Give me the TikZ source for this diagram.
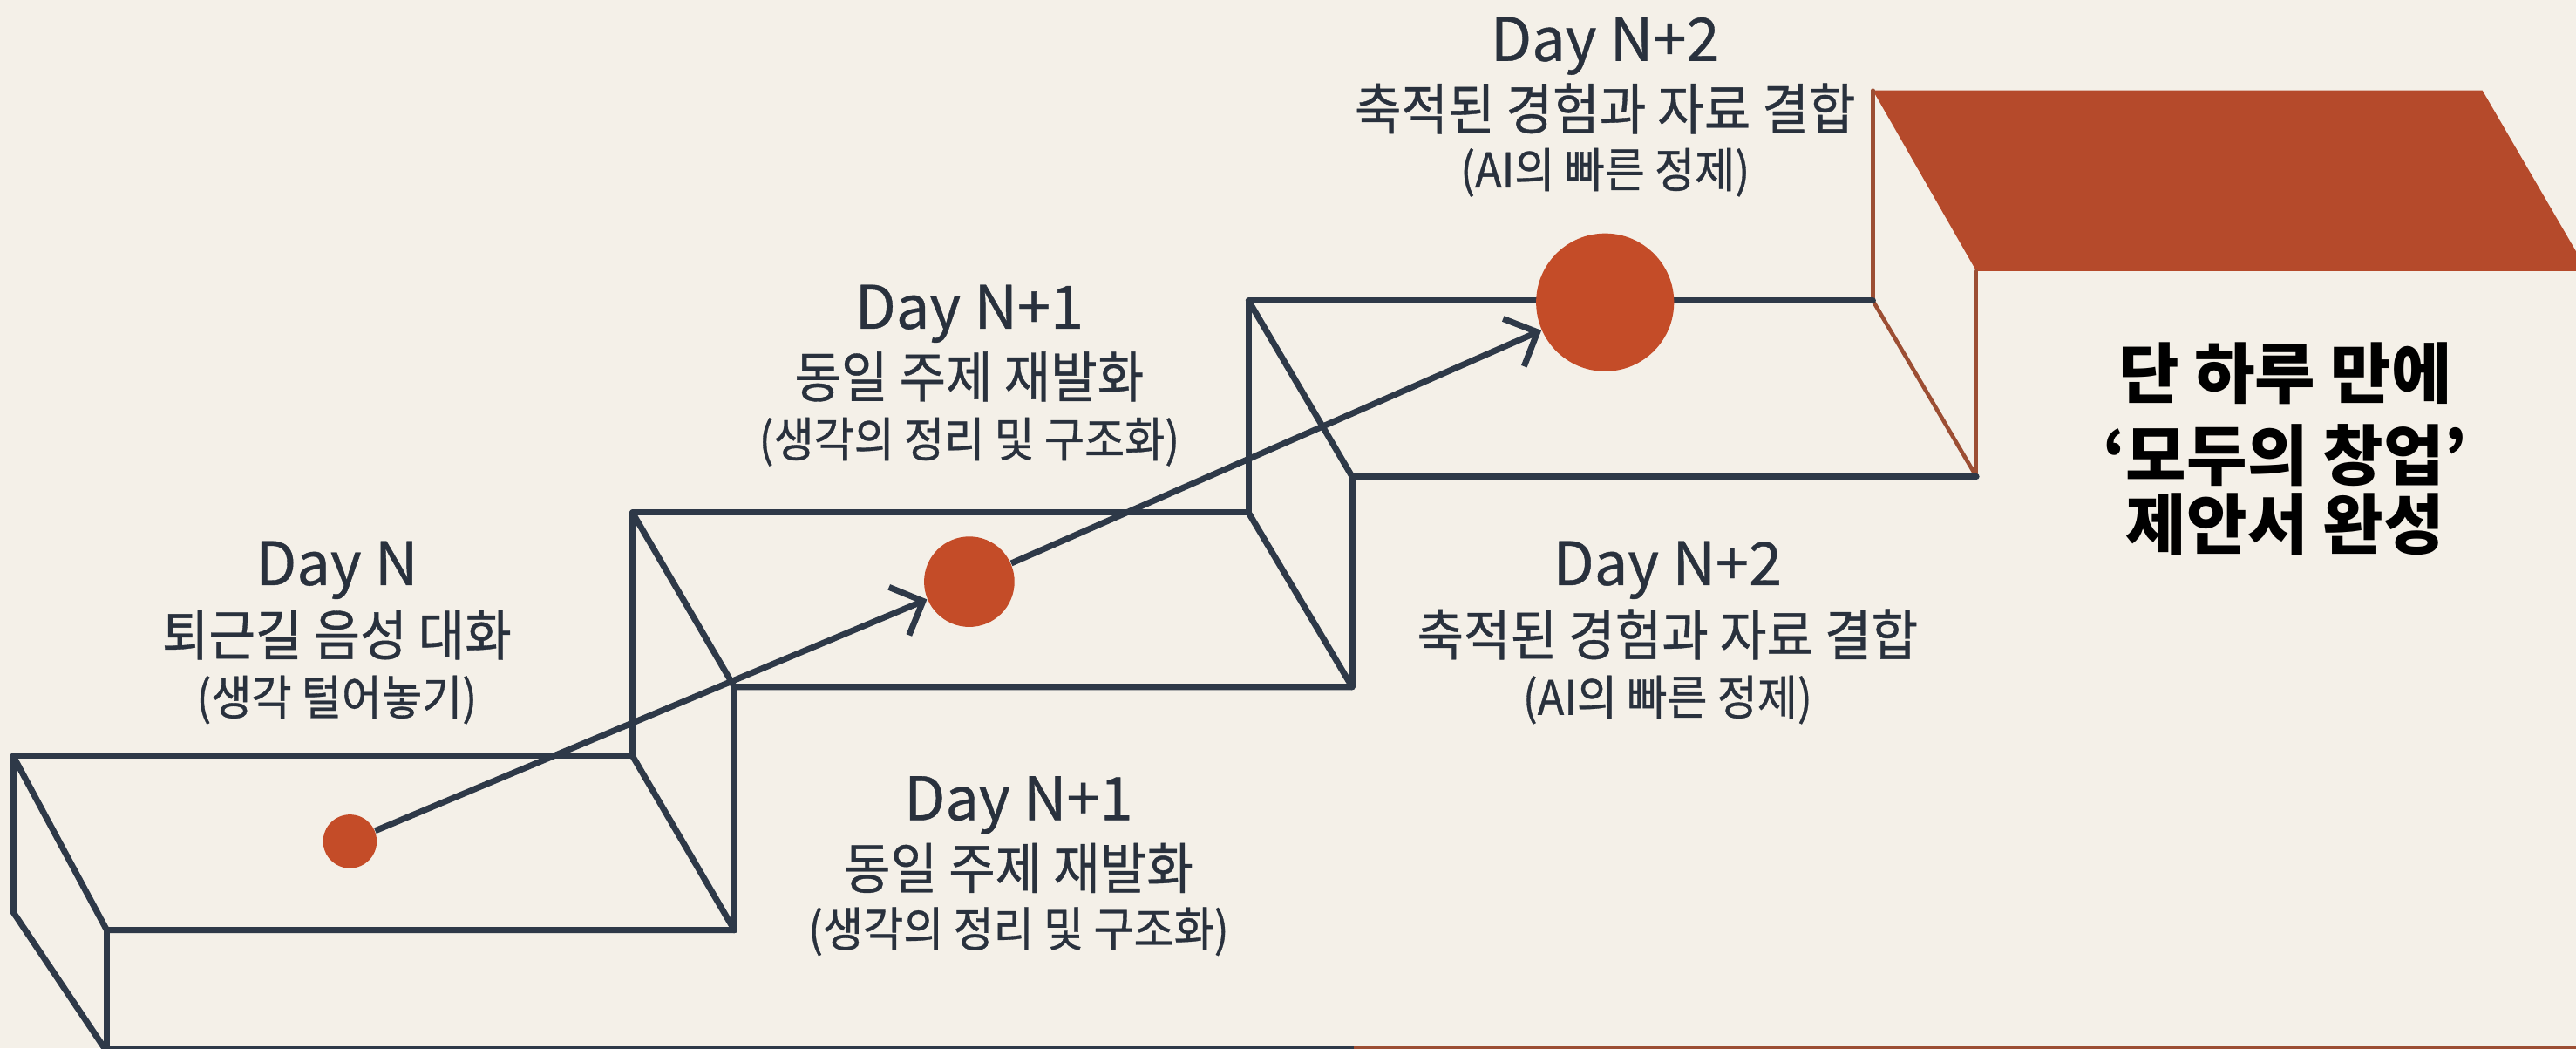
\documentclass[tikz,border=0pt]{standalone}
\usepackage{fontspec}
\usetikzlibrary{arrows.meta}
\newfontfamily\kr[FakeStretch=0.92,FakeBold=0.6]{Noto Sans CJK KR}
\newfontfamily\krl[FakeBold=0.6]{Noto Sans CJK KR}
\newfontfamily\krb{Noto Sans CJK KR}
\definecolor{bgc}{HTML}{F4F0E8}
\definecolor{navy}{HTML}{2E3948}
\definecolor{txtc}{HTML}{29313D}
\definecolor{orng}{HTML}{B54A2B}
\definecolor{dotc}{HTML}{C44C28}
\definecolor{brwn}{HTML}{9C4E33}
\tikzset{
  stair/.style={draw=navy,line width=2pt,line cap=round,line join=round},
  brline/.style={draw=brwn,line width=1.3pt,line cap=round},
  dotn/.style={circle,fill=dotc,inner sep=0pt,draw=none},
  arr/.style={draw=navy,line width=2pt,-{Straight Barb[length=8.5pt,width=17pt,line width=2pt]}},
  daytxt/.style={inner sep=0pt,text=txtc,font=\krl\fontsize{19.5pt}{22pt}\selectfont,text height=12.9pt,text depth=0pt},
  mtxt/.style={inner sep=0pt,text=txtc,font=\kr\fontsize{18pt}{21pt}\selectfont,text height=13.7pt,text depth=0pt},
  ptxt/.style={inner sep=0pt,text=txtc,font=\kr\fontsize{15.5pt}{18pt}\selectfont,text height=11.8pt,text depth=0pt},
  btxt/.style={inner sep=0pt,text=black,font=\krb\bfseries\fontsize{21.5pt}{25pt}\selectfont,text height=16.3pt,text depth=0pt},
}
\begin{document}
\begin{tikzpicture}[x=0.018846cm,y=-0.018846cm]
\useasboundingbox (0,0) rectangle (1568,638);
\fill[bgc] (0,0) rectangle (1568,638);
% orange top step
\fill[orng] (1140,55) -- (1511,55) -- (1575,165) -- (1203,165) -- cycle;
\draw[brline] (1140,55) -- (1140,183);
\draw[brline] (1203,165) -- (1203,290);
\draw[brline] (1140,183) -- (1203,290);
% bottom floor line
\draw[draw=navy,line width=1.6pt] (65,637.5) -- (824,637.5);
\draw[draw=brwn,line width=1.6pt] (824,637.5) -- (1568,637.5);
% step 1
\draw[stair] (8,555) -- (8,460) -- (385,460);
\draw[stair] (8,460) -- (65,566) -- (447,566);
\draw[stair] (8,555) -- (65,640);
\draw[stair] (65,566) -- (65,640);
\draw[stair] (385,460) -- (447,566);
% step 2
\draw[stair] (385,460) -- (385,312) -- (760,312);
\draw[stair] (385,312) -- (447,418) -- (823,418);
\draw[stair] (447,418) -- (447,566);
\draw[stair] (760,312) -- (823,418);
% step 3
\draw[stair] (760,312) -- (760,183) -- (1140,183);
\draw[stair] (760,183) -- (823,290) -- (1203,290);
\draw[stair] (823,290) -- (823,418);
% dots
\node[dotn,minimum size=17.5pt] (d1) at (213,512) {};
\node[dotn,minimum size=29.5pt] (d2) at (590,354) {};
\node[dotn,minimum size=45pt] (d3) at (977,184) {};
\draw[arr] (d1) -- (d2);
\draw[arr] (d2) -- (d3);
% labels
\node[daytxt] (a1) at (205,344) {Day N};
\node[mtxt] (a2) at (205,386) {퇴근길 음성 대화};
\node[ptxt] (a3) at (205,424) {(생각 털어놓기)};
\node[daytxt] (b1) at (590,188) {Day N+1};
\node[mtxt] (b2) at (590,229) {동일 주제 재발화};
\node[ptxt] (b3) at (590,267) {(생각의 정리 및 구조화)};
\node[daytxt] (c1) at (977,25) {Day N+2};
\node[mtxt] (c2) at (977,66) {축적된 경험과 자료 결합};
\node[ptxt] (c3) at (977,103) {(AI의 빠른 정제)};
\node[daytxt] (e1) at (620,487) {Day N+1};
\node[mtxt] (e2) at (620,528) {동일 주제 재발화};
\node[ptxt] (e3) at (620,565) {(생각의 정리 및 구조화)};
\node[daytxt] (f1) at (1015,344) {Day N+2};
\node[mtxt] (f2) at (1015,386) {축적된 경험과 자료 결합};
\node[ptxt] (f3) at (1015,424) {(AI의 빠른 정제)};
\node[btxt] (g1) at (1391,227) {단 하루 만에};
\node[btxt] (g2) at (1391,277) {‘모두의 창업’};
\node[btxt] (g3) at (1391,319) {제안서 완성};
\end{tikzpicture}
\end{document}
